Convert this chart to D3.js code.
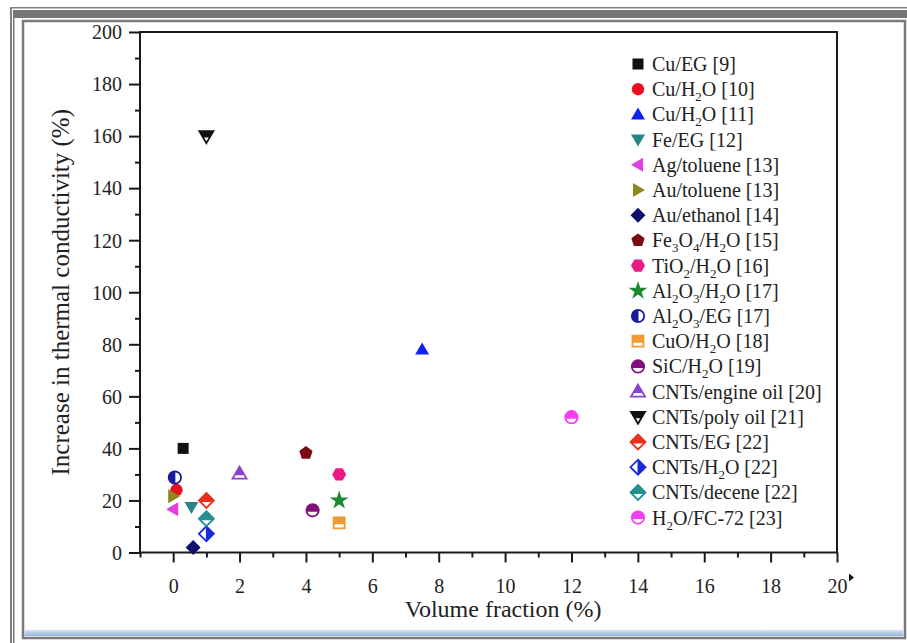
<!DOCTYPE html>
<html>
<head>
<meta charset="utf-8">
<script src="https://cdn.jsdelivr.net/npm/d3@7"></script>
<style>
  body { margin: 0; background: #fff; }
  svg text { font-family: "Liberation Serif", "Times New Roman", serif; fill: #222; }
</style>
</head>
<body>
<svg id="chart" width="907" height="643"></svg>
<script>
// Data
const seriesNames = [
    'Cu/EG [9]', 'Cu/H_2O [10]', 'Cu/H_2O [11]', 'Fe/EG [12]', 'Ag/toluene [13]',
    'Au/toluene [13]', 'Au/ethanol [14]', 'Fe_3O_4/H_2O [15]', 'TiO_2/H_2O [16]',
    'Al_2O_3/H_2O [17]', 'Al_2O_3/EG [17]', 'CuO/H_2O [18]', 'SiC/H_2O [19]',
    'CNTs/engine oil [20]', 'CNTs/poly oil [21]', 'CNTs/EG [22]', 'CNTs/H_2O [22]',
    'CNTs/decene [22]', 'H_2O/FC-72 [23]'
];
const volumeFraction = [0.3, 0.1, 7.5, 0.55, 0.0, 0.0, 0.6, 4.0, 5.0, 5.0, 0.05, 5.0, 4.2, 2.0, 1.0, 1.0, 1.0, 1.0, 12.0];
const increase = [40, 24, 78, 17.5, 16.6, 21.6, 1.9, 38.2, 30, 20, 28.8, 11.4, 16.2, 30.3, 160, 20, 7.2, 13, 52];

const xTicks = [0, 2, 4, 6, 8, 10, 12, 14, 16, 18, 20];
const yTicks = [0, 20, 40, 60, 80, 100, 120, 140, 160, 180, 200];

// Marker styles
const markerColors = ['#111111', '#e8101c', '#1020f0', '#2a8686', '#e23ee2', '#8c8a1c', '#10106e', '#7a0a14',
    '#ea1a84', '#1a8a30', '#1a1a9a', '#f09a30', '#80107a', '#8a40d0', '#111111', '#e83020', '#1a2ad8', '#229090', '#f040f0'];
const markerShapes = ['square', 'circle', 'up', 'down', 'left', 'right', 'diamond', 'pentagon', 'hexagon', 'star',
    'circle', 'square', 'circle', 'up', 'down', 'diamond', 'diamond', 'diamond', 'circle'];
const markerFills = ['full', 'full', 'full', 'full', 'full', 'full', 'full', 'full', 'full', 'full',
    'left', 'top', 'top', 'top', 'top', 'top', 'right', 'top', 'top'];

const svg = d3.select('#chart');
const defs = svg.append('defs');

// Page frame
svg.append('rect').attr('x', 10).attr('y', 7).attr('width', 897).attr('height', 1.5).attr('fill', '#808080');
svg.append('rect').attr('x', 10).attr('y', 7).attr('width', 2).attr('height', 636).attr('fill', '#808080');
svg.append('rect').attr('x', 13).attr('y', 10).attr('width', 894).attr('height', 8).attr('fill', '#777');
svg.append('rect').attr('x', 13).attr('y', 10).attr('width', 1.5).attr('height', 633).attr('fill', '#777');
svg.append('rect').attr('x', 23).attr('y', 21).attr('width', 882).attr('height', 617)
    .attr('fill', '#fff').attr('stroke', '#7a7a7a').attr('stroke-width', 2.5);
const grad = defs.append('linearGradient').attr('id', 'blueband').attr('x1', 0).attr('x2', 0).attr('y1', 0).attr('y2', 1);
grad.append('stop').attr('offset', 0).attr('stop-color', '#d4e3f2');
grad.append('stop').attr('offset', 1).attr('stop-color', '#94b4d6');
svg.append('rect').attr('x', 24.5).attr('y', 630).attr('width', 879).attr('height', 6).attr('fill', 'url(#blueband)');

// Half-fill clips (in marker-local coordinates)
defs.append('clipPath').attr('id', 'clip-top').attr('clipPathUnits', 'userSpaceOnUse')
    .append('rect').attr('x', -12).attr('y', -12).attr('width', 24).attr('height', 13.5);
defs.append('clipPath').attr('id', 'clip-left').attr('clipPathUnits', 'userSpaceOnUse')
    .append('rect').attr('x', -12).attr('y', -12).attr('width', 12.5).attr('height', 24);
defs.append('clipPath').attr('id', 'clip-right').attr('clipPathUnits', 'userSpaceOnUse')
    .append('rect').attr('x', -0.5).attr('y', -12).attr('width', 12.5).attr('height', 24);

// Scales
const x = d3.scaleLinear().domain([-1, 20]).range([140, 837]);
const y = d3.scaleLinear().domain([0, 200]).range([552.5, 32]);

// Axes
const axisColor = '#1a1a1a';
const gx = svg.append('g').attr('transform', `translate(0,${y(0)})`);
gx.call(d3.axisBottom(x).tickValues(d3.range(-1, 21)).tickSize(5).tickFormat(''));
gx.call(g => g.selectAll('.tick').filter(d => xTicks.includes(d)).select('line').attr('y2', 10));
gx.call(g => g.selectAll('.tick').filter(d => xTicks.includes(d)).select('text')
    .text(d => d).attr('y', 26).attr('font-size', 20));
gx.select('.domain').remove();

const gy = svg.append('g').attr('transform', `translate(${x(-1)},0)`);
gy.call(d3.axisLeft(y).tickValues(d3.range(0, 201, 10)).tickSize(5).tickFormat(''));
gy.call(g => g.selectAll('.tick').filter(d => yTicks.includes(d)).select('line').attr('x2', -11));
gy.call(g => g.selectAll('.tick').filter(d => yTicks.includes(d)).select('text')
    .text(d => d).attr('x', -18).attr('dy', '0.34em').attr('font-size', 20));
gy.select('.domain').remove();

svg.selectAll('.tick line').attr('stroke', axisColor).attr('stroke-width', 2);
svg.selectAll('.tick text').attr('fill', '#222').attr('font-family', '"Liberation Serif", serif');

// Plot box
svg.append('rect').attr('x', x(-1)).attr('y', y(200)).attr('width', x(20) - x(-1)).attr('height', y(0) - y(200))
    .attr('fill', 'none').attr('stroke', axisColor).attr('stroke-width', 2);

// small mark beside the 20 label
svg.append('path').attr('d', `M${x(20) + 12},${y(0) + 21}l5,4l-5,4z`).attr('fill', '#111');

// Axis titles
svg.append('text').attr('x', (x(0) + x(20)) / 2 - 2).attr('y', 617).attr('text-anchor', 'middle')
    .attr('font-size', 24).text('Volume fraction (%)');
svg.append('text').attr('transform', `translate(69,${(y(0) + y(200)) / 2}) rotate(-90)`)
    .attr('text-anchor', 'middle').attr('font-size', 25).text('Increase in thermal conductivity (%)');

// Marker shapes
function polygon(n, r, rot) {
    const pts = d3.range(n).map(i => {
        const a = rot + i * 2 * Math.PI / n;
        return [r * Math.sin(a), -r * Math.cos(a)];
    });
    return 'M' + pts.map(p => p.join(',')).join('L') + 'Z';
}
function shapePath(shape) {
    switch (shape) {
        case 'square': return d3.symbol(d3.symbolSquare, 121)();
        case 'circle': return d3.symbol(d3.symbolCircle, 120)();
        case 'up': return 'M0,-7L7,5L-7,5Z';
        case 'down': return 'M0,7L7,-5L-7,-5Z';
        case 'left': return 'M-7,0L5,-7L5,7Z';
        case 'right': return 'M7,0L-5,-7L-5,7Z';
        case 'diamond': return 'M0,-7.5L7.5,0L0,7.5L-7.5,0Z';
        case 'pentagon': return polygon(5, 7, 0);
        case 'hexagon': return polygon(6, 7, Math.PI / 6);
        case 'star': return d3.symbol(d3.symbolStar, 110)();
    }
}
function drawMarker(g, i) {
    const d = shapePath(markerShapes[i]);
    const c = markerColors[i];
    const f = markerFills[i];
    if (f === 'full') {
        g.append('path').attr('d', d).attr('fill', c);
    } else {
        g.append('path').attr('d', d).attr('fill', '#fff').attr('stroke', c).attr('stroke-width', 1.8);
        g.append('path').attr('d', d).attr('fill', c).attr('clip-path', `url(#clip-${f})`);
    }
}

// Points
const idx = d3.range(seriesNames.length);
svg.append('g').selectAll('g').data(idx).join('g')
    .attr('transform', i => `translate(${x(volumeFraction[i])},${y(increase[i])})`)
    .each(function(i) { drawMarker(d3.select(this), i); });

// Legend
const legend = svg.append('g');
const rows = legend.selectAll('g').data(idx).join('g')
    .attr('transform', i => `translate(638,${64 + i * 25.2})`);
rows.each(function(i) { drawMarker(d3.select(this), i); });
rows.append('text').attr('x', 14).attr('y', 7).attr('font-size', 20)
    .each(function(i) {
        const t = d3.select(this);
        let shift = 0;
        seriesNames[i].split(/(_\d)/).filter(s => s).forEach(part => {
            if (part[0] === '_') {
                t.append('tspan').attr('font-size', 13).attr('dy', 5 - shift).text(part.slice(1));
                shift = 5;
            } else {
                t.append('tspan').attr('dy', -shift).text(part);
                shift = 0;
            }
        });
    });
</script>
</body>
</html>
